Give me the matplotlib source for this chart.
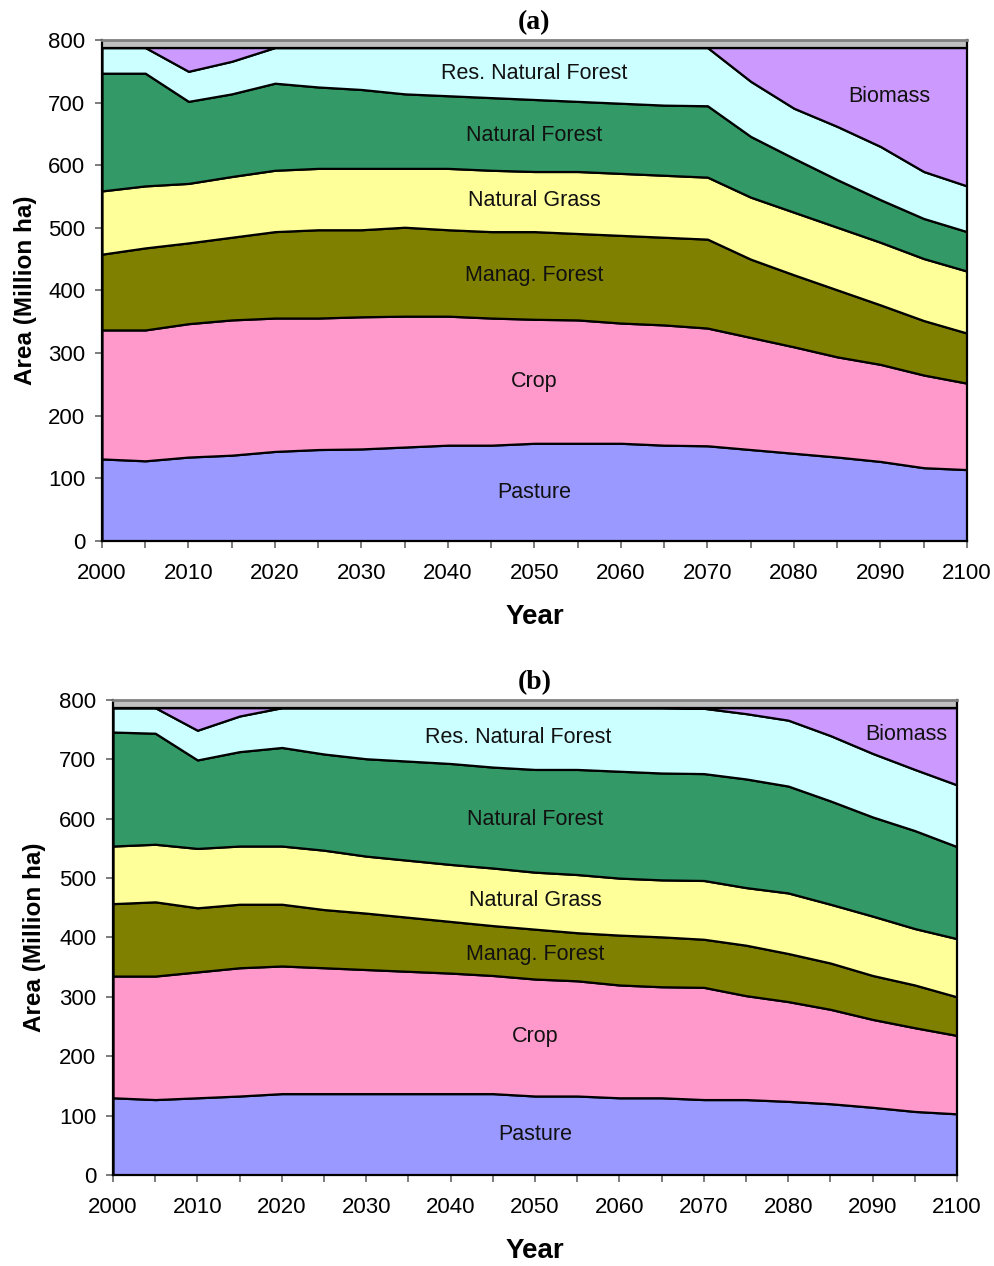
import numpy as np
import matplotlib.pyplot as plt
from matplotlib.ticker import MultipleLocator

plt.rcParams['font.family'] = ['Liberation Sans', 'DejaVu Sans']

years = np.arange(2000, 2101, 5)

# panel (a): upper edge of each stacked land class (Million ha)
a_pasture = [131, 128, 134, 137, 143, 146, 147, 150, 153, 153, 156, 156, 156, 153, 152, 146, 140, 134, 127, 117, 114]
a_crop = [337, 337, 347, 353, 356, 356, 358, 359, 359, 356, 354, 353, 348, 345, 340, 325, 310, 294, 282, 265, 252]
a_manag = [458, 468, 476, 485, 494, 497, 497, 501, 497, 494, 494, 491, 488, 485, 482, 450, 425, 401, 377, 352, 332]
a_grass = [559, 567, 571, 582, 592, 595, 595, 595, 595, 592, 590, 590, 587, 584, 581, 549, 525, 501, 477, 451, 431]
a_natfor = [747, 747, 702, 714, 731, 725, 721, 714, 711, 708, 705, 702, 699, 696, 695, 646, 611, 577, 545, 515, 494]
a_resfor = [788, 788, 750, 766, 788, 788, 788, 788, 788, 788, 788, 788, 788, 788, 788, 734, 691, 662, 630, 590, 567]
a_total = 788

# panel (b)
b_pasture = [130, 127, 130, 133, 137, 137, 137, 137, 137, 137, 133, 133, 130, 130, 127, 127, 124, 120, 114, 107, 103]
b_crop = [335, 335, 342, 349, 352, 349, 346, 343, 340, 336, 330, 327, 320, 317, 316, 302, 292, 279, 262, 248, 235]
b_manag = [457, 460, 450, 456, 456, 447, 441, 434, 427, 420, 414, 408, 404, 401, 397, 387, 373, 357, 336, 320, 300]
b_grass = [554, 557, 550, 554, 554, 547, 537, 530, 523, 517, 510, 506, 500, 497, 496, 484, 475, 456, 436, 415, 398]
b_natfor = [746, 744, 699, 713, 720, 709, 701, 697, 693, 687, 683, 683, 680, 677, 676, 667, 655, 630, 603, 580, 553]
b_resfor = [787, 787, 749, 773, 787, 787, 787, 787, 787, 787, 787, 787, 787, 787, 786, 777, 766, 740, 710, 683, 657]
b_total = 787

names = ['Pasture', 'Crop', 'Manag. Forest', 'Natural Grass', 'Natural Forest', 'Res. Natural Forest', 'Biomass']
colors = ['#9999ff', '#ff99cc', '#808000', '#ffff99', '#339966', '#ccffff', '#cc99ff']

a_labels = [(2050, 78), (2050, 254), (2050, 424), (2050, 543), (2050, 648), (2050, 746), (2091, 709)]
b_labels = [(2050, 69), (2050, 234), (2050, 372), (2050, 463), (2050, 598), (2048, 736), (2094, 742)]


def draw_panel(ax, edges, total, labels, title, ylab_x):
    tops = np.vstack(edges + [np.full(len(years), total)])
    layers = np.diff(np.vstack([np.zeros(len(years)), tops]), axis=0)
    ax.stackplot(years, layers, colors=colors, edgecolor='black', linewidth=1.6)
    ax.fill_between(years, total, 800, color='#c0c0c0', lw=0)
    ax.plot(years, np.full(len(years), total), color='black', lw=1.6)
    for nm, (x, y) in zip(names, labels):
        ax.text(x, y, nm, ha='center', va='center', fontsize=15.5, color='#111111')

    ax.set_xlim(2000, 2100)
    ax.set_ylim(0, 800)
    ax.xaxis.set_major_locator(MultipleLocator(10))
    ax.xaxis.set_minor_locator(MultipleLocator(5))
    ax.yaxis.set_major_locator(MultipleLocator(100))
    ax.tick_params(which='both', direction='out', length=5, width=1.2, color='#666666',
                   labelsize=16, pad=7)
    ax.tick_params(axis='x', which='both', pad=11)
    for s in ['left', 'bottom', 'right']:
        ax.spines[s].set_color('black')
        ax.spines[s].set_linewidth(1.6)
    ax.spines['top'].set_color('#808080')
    ax.spines['top'].set_linewidth(2)
    ax.set_xlabel('Year', fontsize=20, fontweight='bold', labelpad=14)
    ax.set_ylabel('Area (Million ha)', fontsize=17.5, fontweight='bold')
    ax.yaxis.set_label_coords(ylab_x, 0.5)
    ax.set_title(title, fontsize=20, fontweight='bold', family='Liberation Serif', pad=8)


fig = plt.figure(figsize=(9.95, 12.66), dpi=100)
ax1 = fig.add_axes([0.1025, 0.5727, 0.8693, 0.3957])
ax2 = fig.add_axes([0.1136, 0.0719, 0.8482, 0.3752])

draw_panel(ax1, [a_pasture, a_crop, a_manag, a_grass, a_natfor, a_resfor], a_total, a_labels, '(a)', -0.075)
draw_panel(ax2, [b_pasture, b_crop, b_manag, b_grass, b_natfor, b_resfor], b_total, b_labels, '(b)', -0.079)

fig.savefig('out.png', dpi=100)
